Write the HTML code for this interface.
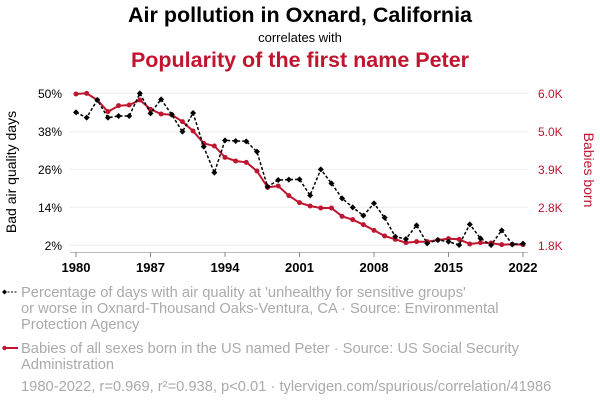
<!DOCTYPE html>
<html><head><meta charset="utf-8"><style>
body{margin:0;background:#fff;width:600px;height:408px;overflow:hidden;font-family:"Liberation Sans",sans-serif}
</style></head><body>
<svg id="s" width="600" height="408" xmlns="http://www.w3.org/2000/svg" font-family="Liberation Sans, sans-serif">
<text x="300" y="22" text-anchor="middle" font-size="21.5" font-weight="bold" fill="#000">Air pollution in Oxnard, California</text>
<text x="300" y="42" text-anchor="middle" font-size="13" fill="#000">correlates with</text>
<text x="300" y="67" text-anchor="middle" font-size="21.5" font-weight="bold" fill="#c0152f">Popularity of the first name Peter</text>
<g stroke="#eee" stroke-width="1">
<line x1="70" x2="528" y1="93.3" y2="93.3"/><line x1="70" x2="528" y1="131.7" y2="131.7"/><line x1="70" x2="528" y1="169.3" y2="169.3"/><line x1="70" x2="528" y1="207.3" y2="207.3"/><line x1="70" x2="528" y1="245.3" y2="245.3"/>
</g>
<line x1="70" x2="528" y1="252.5" y2="252.5" stroke="#bbb"/>
<g font-size="12" text-anchor="end" fill="#000">
<text x="62" y="98">50%</text><text x="62" y="136">38%</text><text x="62" y="174">26%</text><text x="62" y="212">14%</text><text x="62" y="250">2%</text>
</g>
<g font-size="12" fill="#c0152f">
<text x="538" y="98">6.0K</text><text x="538" y="136">5.0K</text><text x="538" y="174">3.9K</text><text x="538" y="212">2.8K</text><text x="538" y="250">1.8K</text>
</g>
<text transform="translate(16,172) rotate(-90)" text-anchor="middle" font-size="14" fill="#000">Bad air quality days</text>
<text transform="translate(584,170) rotate(90)" text-anchor="middle" font-size="14" fill="#c0152f">Babies born</text>
<g id="xt" font-size="13" font-weight="bold" text-anchor="middle" fill="#000"></g>
<g id="plot"></g>
<g font-size="14.7" fill="#aaa">
<text x="21" y="297">Percentage of days with air quality at 'unhealthy for sensitive groups'</text>
<text x="21" y="313">or worse in Oxnard-Thousand Oaks-Ventura, CA · Source: Environmental</text>
<text x="21" y="329">Protection Agency</text>
<text x="21" y="353">Babies of all sexes born in the US named Peter · Source: US Social Security</text>
<text x="21" y="369">Administration</text>
<text x="21" y="391">1980-2022, r=0.969, r²=0.938, p&lt;0.01 · tylervigen.com/spurious/correlation/41986</text>
</g>
<line x1="4" x2="18" y1="292" y2="292" stroke="#000" stroke-dasharray="2,1.5"/>
<path d="M2 292 L4.5 289.5 L7 292 L4.5 294.5Z" fill="#000"/>
<line x1="4" x2="18" y1="348" y2="348" stroke="#c0152f" stroke-width="2"/>
<circle cx="4.5" cy="348" r="2.2" fill="#c0152f"/>
</svg>
<script>
var b1=[97,113,60,113,108,108,40,100,58,104,155,99,200,278,181,183,184,215,320,300,299];
var b2=[298,346,268,310,355,382,407,370,413,470,477,436,490,480,485,495,433,475,495,451,493,491];
var r1=[42,40,60,95,77,75,60,88,102,104,125,153,190,198,232,243,247,273,322,318,347];
var r2=[368,378,384,384,409,419,434,451,468,478,488,485,485,480,476,478,492,488,489,494,493,494];
var B=b1.concat(b2).map(v=>80+v/3),R=r1.concat(r2).map(v=>80+v/3);
function X(i){return 76+i*447/42;}
var h='',pb=B.map((y,i)=>X(i).toFixed(1)+','+y.toFixed(1)).join(' '),pr=R.map((y,i)=>X(i).toFixed(1)+','+y.toFixed(1)).join(' ');
h+='<polyline points="'+pr+'" fill="none" stroke="#c0152f" stroke-width="2"/>';
R.forEach((y,i)=>h+='<circle cx="'+X(i)+'" cy="'+y+'" r="2.5" fill="#c0152f"/>');
h+='<polyline points="'+pb+'" fill="none" stroke="#000" stroke-width="1.5" stroke-dasharray="3,2"/>';
B.forEach((y,i)=>{var x=X(i);h+='<path d="M'+(x-3)+' '+y+' L'+x+' '+(y-3)+' L'+(x+3)+' '+y+' L'+x+' '+(y+3)+'Z" fill="#000"/>';});
document.getElementById('plot').innerHTML=h;
var t='';[1980,1987,1994,2001,2008,2015,2022].forEach(yr=>{var x=X(yr-1980);t+='<line x1="'+x+'" x2="'+x+'" y1="252" y2="257" stroke="#888"/><text x="'+x+'" y="272">'+yr+'</text>';});
document.getElementById('xt').innerHTML=t;
</script>
</body></html>
